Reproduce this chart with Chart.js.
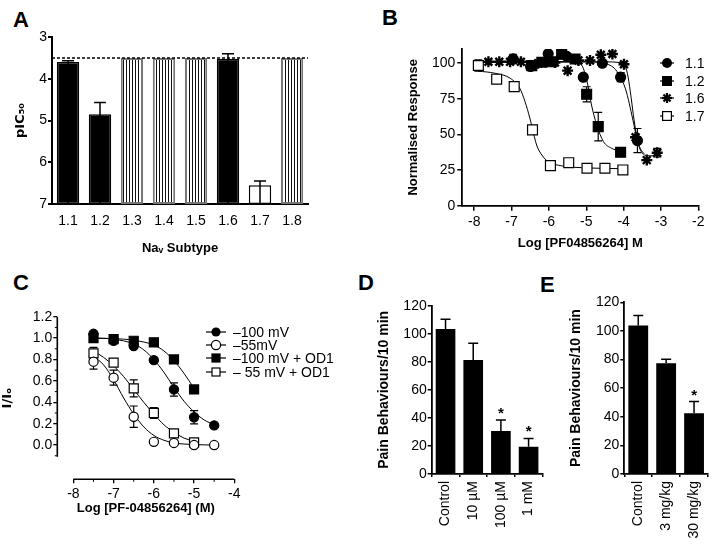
<!DOCTYPE html>
<html>
<head>
<meta charset="utf-8">
<script src="https://cdn.jsdelivr.net/npm/chart.js@4.4.1/dist/chart.umd.min.js"></script>
<style>
  body { margin: 0; background: #fff; font-family: "Liberation Sans", Arial, sans-serif; }
  #fig { position: relative; width: 722px; height: 549px; overflow: hidden; }
  #fig canvas { position: absolute; }
  .letter { position: absolute; font-weight: bold; font-size: 22px; line-height: 20px; }
  .legtxt { position: absolute; font-size: 14px; line-height: 14px; white-space: nowrap; }
  .legsvg { position: absolute; }
</style>
</head>
<body>
<div id="fig">
  <div class="letter" style="left:13px;top:10px">A</div>
  <div class="letter" style="left:382px;top:8px">B</div>
  <div class="letter" style="left:13px;top:273px">C</div>
  <div class="letter" style="left:358px;top:273px">D</div>
  <div class="letter" style="left:540px;top:275px">E</div>
  <canvas id="chartA" width="330" height="270" style="left:0;top:0"></canvas>
  <canvas id="chartB" width="352" height="270" style="left:370px;top:0"></canvas>
  <canvas id="chartC" width="360" height="279" style="left:0;top:270px"></canvas>
  <canvas id="chartD" width="190" height="279" style="left:360px;top:270px"></canvas>
  <canvas id="chartE" width="177" height="279" style="left:545px;top:270px"></canvas>
</div>
<script>
// Panel A - pIC50 per Nav subtype
const subtypesA = ['1.1', '1.2', '1.3', '1.4', '1.5', '1.6', '1.7', '1.8'];
const pic50A = [3.6, 4.85, 3.5, 3.5, 3.5, 3.52, 6.55, 3.5];
const pic50ErrA = [0.03, 0.28, 0, 0, 0, 0.12, 0.1, 0];
const cutoffA = 3.5;
const yTicksA = [3, 4, 5, 6, 7];

// Panel B - concentration response
const xTicksB = [-8, -7, -6, -5, -4, -3, -2];
const yTicksB = [0, 25, 50, 75, 100];
const namesB = ['1.1', '1.2', '1.6', '1.7'];
const logB11 = [-6.96, -6.49, -6.02, -5.53, -5.08, -4.57, -4.08, -3.63];
const respB11 = [103, 97.7, 106.6, 105, 90.2, 100, 90.2, 45.7];
const errB11 = [3.3, 1.5, 0, 0, 0, 0, 3.2, 8.5];
const logB12 = [-6.46, -6.19, -5.93, -5.66, -5.30, -4.99, -4.68, -4.08];
const respB12 = [98.3, 100.7, 101, 106.3, 103, 78.2, 55.5, 37.5];
const errB12 = [0, 0, 0, 2.3, 0, 5.3, 10, 1.5];
const logB16 = [-7.62, -7.33, -7.04, -6.75, -6.29, -5.84, -5.5, -5.21, -4.9, -4.61, -4.30, -3.99, -3.68, -3.38, -3.10];
const respB16 = [101, 101, 101, 101, 100, 100.5, 94.8, 102, 102, 106, 106.5, 99.3, 48, 32, 37.2];
const errB16 = [0, 0, 0, 0, 0, 0, 0, 0, 0, 0, 0, 0, 0, 0, 3];
const logB17 = [-7.89, -7.4, -6.93, -6.44, -5.96, -5.47, -4.98, -4.5, -4.02];
const respB17 = [98.4, 88.8, 83.6, 53.2, 28.1, 30.2, 26.3, 26.3, 25.1];
const errB17 = [4, 0, 0, 0, 0, 0, 0, 0, 0];
// fitted curves
const fitXB11 = [-7.0, -5.0, -4.6, -4.4, -4.25, -4.1, -3.95, -3.85, -3.75, -3.65, -3.55, -3.45];
const fitYB11 = [101, 101, 100.5, 99, 96.5, 91, 82, 72, 60, 48, 40, 36.5];
const fitXB12 = [-6.5, -5.6, -5.3, -5.21, -5.08, -4.96, -4.86, -4.72, -4.54, -4.32, -4.08];
const fitYB12 = [101, 101, 101, 100.5, 96.5, 84.8, 70.7, 56.7, 45, 40.3, 38];
const fitXB16 = [-7.8, -4.5, -4.1, -3.98, -3.9, -3.82, -3.74, -3.66, -3.58, -3.5, -3.38, -3.0];
const fitYB16 = [101, 101, 100.5, 99, 93, 80, 64, 50, 41, 37, 35, 35];
const fitXB17 = [-7.9, -7.45, -7.04, -6.78, -6.64, -6.51, -6.45, -6.33, -6.19, -6.02, -5.66, -4.95, -4.0];
const fitYB17 = [94.5, 93, 89.5, 82.4, 73, 61.4, 55, 42.6, 35.6, 30.9, 28, 26.5, 26];

// Panel C - I/Io vs concentration
const xTicksC = [-8, -7, -6, -5, -4];
const yTicksC = [0, 0.2, 0.4, 0.6, 0.8, 1.0, 1.2];
const xMinorC = [-7.5, -6.5, -5.5, -4.5];
const yMinorC = [-0.1, 0.1, 0.3, 0.5, 0.7, 0.9, 1.1];
const namesC = ['\u2013100 mV', '\u201355mV', '\u2013100 mV + OD1', '\u2013 55 mV + OD1'];
const doseC = [-7.5, -7, -6.5, -6, -5.5, -5, -4.5];
const doseOD = [-7.5, -7, -6.5, -6, -5.5, -5];
const iC100 = [1.04, 0.975, 0.925, 0.794, 0.52, 0.26, 0.184];
const errC100 = [0, 0.01, 0.01, 0.01, 0.062, 0.062, 0];
const iC55 = [0.78, 0.63, 0.265, 0.03, 0.02, 0, 0];
const errC55 = [0.07, 0.07, 0.1, 0, 0, 0, 0];
const iC100od = [1.0, 0.99, 0.975, 0.96, 0.80, 0.52];
const errC100od = [0, 0, 0, 0, 0, 0];
const iC55od = [0.857, 0.77, 0.53, 0.30, 0.11, 0.025];
const errC55od = [0.056, 0, 0.08, 0.05, 0, 0];
const fitXC100 = [-7.5, -7.0, -6.5, -6.25, -6.0, -5.75, -5.5, -5.25, -5.0, -4.75, -4.5];
const fitYC100 = [1.0, 0.99, 0.945, 0.89, 0.80, 0.68, 0.54, 0.41, 0.31, 0.235, 0.19];
const fitXC55 = [-7.5, -7.25, -7.0, -6.75, -6.5, -6.25, -6.0, -5.75, -5.5, -5.0, -4.5];
const fitYC55 = [0.83, 0.75, 0.61, 0.44, 0.29, 0.17, 0.09, 0.045, 0.02, 0.005, 0.0];
const fitXC100od = [-7.5, -7.0, -6.5, -6.0, -5.75, -5.5, -5.25, -5.0];
const fitYC100od = [1.0, 0.995, 0.98, 0.935, 0.88, 0.79, 0.67, 0.53];
const fitXC55od = [-7.5, -7.25, -7.0, -6.75, -6.5, -6.25, -6.0, -5.75, -5.5, -5.25, -5.0];
const fitYC55od = [0.88, 0.82, 0.74, 0.64, 0.52, 0.40, 0.29, 0.19, 0.12, 0.065, 0.035];

// Panels D and E - pain behaviours
const yTicksDE = [0, 20, 40, 60, 80, 100, 120];
const groupsD = ['Control', '10 \u00b5M', '100 \u00b5M', '1 mM'];
const painD = [103.4, 81.3, 30.7, 19.5];
const painErrD = [6.9, 11.9, 7.8, 5.9];
const sigD = [false, false, true, true];
const groupsE = ['Control', '3 mg/kg', '30 mg/kg'];
const painE = [103.7, 77.4, 42.4];
const painErrE = [7, 2.8, 8.2];
const sigE = [false, false, true];

Chart.defaults.font.family = '"Liberation Sans", Arial, sans-serif';
Chart.defaults.font.size = 14;
Chart.defaults.color = '#000';
Chart.defaults.animation = false;
Chart.defaults.responsive = false;
Chart.defaults.plugins.legend.display = false;
Chart.defaults.plugins.tooltip.enabled = false;

const pts = (xs, ys) => xs.map((x, i) => ({ x: x, y: ys[i] }));
const fixedTicks = list => scale => { scale.ticks = list.map(v => ({ value: v })); };
const boldTitle = (text, size, padTop, family) => ({
    display: true, text: text, color: '#000',
    font: family ? { size: size, weight: 'bold', family: family } : { size: size, weight: 'bold' },
    padding: { top: padTop, bottom: 4 }
});

// error bars (and significance stars) through the y scale
function drawErrors(chart, bars) {
    const ctx = chart.ctx;
    const ys = chart.scales.y;
    chart.data.datasets.forEach((ds, i) => {
        if (!ds.errors) return;
        const meta = chart.getDatasetMeta(i);
        if ((meta.type === 'bar') !== bars) return;
        ctx.save();
        ctx.strokeStyle = '#000';
        ctx.lineWidth = ds.errorWidth || 1.2;
        const cap = ds.errorCap || 4;
        meta.data.forEach((el, j) => {
            const e = ds.errors[j];
            const raw = ds.data[j];
            const v = Array.isArray(raw) ? raw[1] : (typeof raw === 'object' ? raw.y : raw);
            const x = el.x;
            let y1, y2;
            if (bars) {
                y1 = el.y;
                y2 = ys.getPixelForValue(v + (ds.errorDir || 1) * e);
            } else {
                y1 = ys.getPixelForValue(v - e);
                y2 = ys.getPixelForValue(v + e);
            }
            if (e) {
                ctx.beginPath();
                ctx.moveTo(x, y1); ctx.lineTo(x, y2);
                ctx.moveTo(x - cap, y2); ctx.lineTo(x + cap, y2);
                if (!bars) { ctx.moveTo(x - cap, y1); ctx.lineTo(x + cap, y1); }
                ctx.stroke();
            }
            if (ds.stars && ds.stars[j]) {
                ctx.fillStyle = '#000';
                ctx.font = 'bold 15px "Liberation Sans", Arial, sans-serif';
                ctx.textAlign = 'center';
                ctx.textBaseline = 'alphabetic';
                ctx.fillText('*', x, y2 - 2);
            }
        });
        ctx.restore();
    });
}
const errorBars = {
    id: 'errorBars',
    beforeDatasetsDraw(chart) { drawErrors(chart, false); },
    afterDatasetsDraw(chart) { drawErrors(chart, true); }
};

const refLine = {
    id: 'refLine',
    afterDatasetsDraw(chart, args, opts) {
        const { ctx, chartArea, scales } = chart;
        const py = scales.y.getPixelForValue(opts.value);
        ctx.save();
        ctx.setLineDash([3, 2]);
        ctx.lineWidth = 1.5;
        ctx.strokeStyle = '#000';
        ctx.beginPath();
        ctx.moveTo(chartArea.left, py);
        ctx.lineTo(chartArea.right, py);
        ctx.stroke();
        ctx.restore();
    }
};

// detached axes with minor ticks (panel C)
const splitAxes = {
    id: 'splitAxes',
    afterDraw(chart, args, o) {
        const { ctx, chartArea: a, scales: { x, y } } = chart;
        ctx.save();
        ctx.strokeStyle = '#000';
        ctx.lineWidth = 1.6;
        ctx.beginPath();
        ctx.moveTo(a.left, y.getPixelForValue(o.yFrom));
        ctx.lineTo(a.left, y.getPixelForValue(o.yTo));
        ctx.moveTo(x.getPixelForValue(o.xFrom), a.bottom);
        ctx.lineTo(x.getPixelForValue(o.xTo), a.bottom);
        ctx.stroke();
        ctx.lineWidth = 1;
        ctx.beginPath();
        o.yMinor.forEach(v => {
            const p = y.getPixelForValue(v);
            ctx.moveTo(a.left - 2.5, p); ctx.lineTo(a.left, p);
        });
        o.xMinor.forEach(v => {
            const p = x.getPixelForValue(v);
            ctx.moveTo(p, a.bottom); ctx.lineTo(p, a.bottom + 2.5);
        });
        ctx.stroke();
        ctx.restore();
    }
};

function stripes() {
    const c = document.createElement('canvas');
    c.width = 3; c.height = 4;
    const g = c.getContext('2d');
    g.fillStyle = '#fff'; g.fillRect(0, 0, 3, 4);
    g.fillStyle = '#111'; g.fillRect(0, 0, 1, 4);
    return g.createPattern(c, 'repeat');
}

// legend glyphs
function glyph(shape, r, w) {
    const c = w / 2, m = 7;
    let s = `<line x1="0" y1="${m}" x2="${w}" y2="${m}" stroke="#000" stroke-width="1.2"/>`;
    if (shape === 'dot') s += `<circle cx="${c}" cy="${m}" r="${r}" fill="#000"/>`;
    if (shape === 'ring') s += `<circle cx="${c}" cy="${m}" r="${r}" fill="#fff" stroke="#000" stroke-width="1.2"/>`;
    if (shape === 'box') s += `<rect x="${c - r}" y="${m - r}" width="${2 * r}" height="${2 * r}" fill="#000"/>`;
    if (shape === 'openbox') s += `<rect x="${c - r + 0.6}" y="${m - r + 0.6}" width="${2 * r - 1.2}" height="${2 * r - 1.2}" fill="#fff" stroke="#000" stroke-width="1.2"/>`;
    if (shape === 'star') {
        [0, 45, 90, 135].forEach(d => {
            const dx = r * Math.cos(d * Math.PI / 180), dy = r * Math.sin(d * Math.PI / 180);
            s += `<line x1="${c - dx}" y1="${m - dy}" x2="${c + dx}" y2="${m + dy}" stroke="#000" stroke-width="2.2"/>`;
        });
    }
    return `<svg width="${w}" height="14" viewBox="0 0 ${w} 14">${s}</svg>`;
}
function addLegend(names, shapes, r, w, gx, tx, rows) {
    const fig = document.getElementById('fig');
    names.forEach((name, i) => {
        const g = document.createElement('div');
        g.className = 'legsvg';
        g.style.left = gx + 'px';
        g.style.top = (rows[i] - 7) + 'px';
        g.innerHTML = glyph(shapes[i], r, w);
        fig.appendChild(g);
        const t = document.createElement('div');
        t.className = 'legtxt';
        t.style.left = tx + 'px';
        t.style.top = (rows[i] - 7) + 'px';
        t.textContent = name;
        fig.appendChild(t);
    });
}

// ---------- A
const hatch = stripes();
const kindA = ['solid', 'solid', 'hatch', 'hatch', 'hatch', 'solid', 'open', 'hatch'];
new Chart(document.getElementById('chartA'), {
    type: 'bar',
    data: {
        labels: subtypesA,
        datasets: [{
            data: pic50A.map(v => [7, v]),
            errors: pic50ErrA,
            errorDir: -1,
            errorCap: 6,
            errorWidth: 1.5,
            backgroundColor: kindA.map(k => k === 'solid' ? '#000' : (k === 'open' ? '#fff' : hatch)),
            borderColor: kindA.map(k => k === 'hatch' ? '#777' : '#000'),
            borderWidth: kindA.map(k => k === 'hatch' ? 2 : 1.5),
            borderSkipped: false,
            barPercentage: 0.7,
            categoryPercentage: 1
        }]
    },
    options: {
        layout: { padding: { left: 0, top: 37, right: 22, bottom: 10 } },
        scales: {
            x: {
                grid: { display: false, drawTicks: false },
                border: { color: '#000', width: 2 },
                ticks: { padding: 9 },
                title: boldTitle('Na\u1d65 Subtype', 13, 4),
                afterFit: s => { s.height = 56; }
            },
            y: {
                reverse: true, min: 3, max: 7,
                afterBuildTicks: fixedTicks(yTicksA),
                grid: { drawOnChartArea: false, tickLength: 4, color: '#000', lineWidth: 2 },
                border: { color: '#000', width: 2 },
                ticks: { padding: 1 },
                title: boldTitle('pIC\u2085\u2080', 13, 13, '"DejaVu Sans", sans-serif'),
                afterFit: s => { s.width = 52; }
            }
        },
        plugins: { refLine: { value: cutoffA } }
    },
    plugins: [errorBars, refLine]
});

// ---------- B
const markB = {
    '1.1': { pointStyle: 'circle', pointRadius: 5, pointBackgroundColor: '#000' },
    '1.2': { pointStyle: 'rect', pointRadius: 7, pointBackgroundColor: '#000' },
    '1.6': { pointStyle: 'star', pointRadius: 5.5, pointBackgroundColor: '#000', pointBorderWidth: 2.4 },
    '1.7': { pointStyle: 'rect', pointRadius: 7, pointBackgroundColor: '#fff' }
};
const seriesB = [
    [logB11, respB11, errB11, fitXB11, fitYB11],
    [logB12, respB12, errB12, fitXB12, fitYB12],
    [logB16, respB16, errB16, fitXB16, fitYB16],
    [logB17, respB17, errB17, fitXB17, fitYB17]
];
const dotsB = seriesB.map((s, i) => Object.assign({
    data: pts(s[0], s[1]),
    errors: s[2],
    errorCap: 4,
    pointBorderColor: '#000',
    pointBorderWidth: 1.2,
    showLine: false,
    order: 1
}, markB[namesB[i]]));
const fitsB = seriesB.map(s => ({
    data: pts(s[3], s[4]),
    showLine: true,
    pointRadius: 0,
    borderColor: '#000',
    borderWidth: 1,
    cubicInterpolationMode: 'monotone',
    order: 2
}));
new Chart(document.getElementById('chartB'), {
    type: 'scatter',
    data: { datasets: dotsB.concat(fitsB) },
    options: {
        layout: { padding: { left: 32, top: 49, right: 23.7, bottom: 15 } },
        scales: {
            x: {
                type: 'linear', min: -8.32, max: -2,
                afterBuildTicks: fixedTicks(xTicksB),
                grid: { drawOnChartArea: false, tickLength: 5, color: '#000', lineWidth: 1.5 },
                border: { color: '#000', width: 1.8 },
                ticks: { padding: 3 },
                title: boldTitle('Log [PF04856264] M', 13, 4),
                afterFit: s => { s.height = 49.3; }
            },
            y: {
                min: 0, max: 110,
                afterBuildTicks: fixedTicks(yTicksB),
                grid: { drawOnChartArea: false, tickLength: 5, color: '#000', lineWidth: 1.5 },
                border: { color: '#000', width: 1.8 },
                ticks: { padding: 2 },
                title: boldTitle('Normalised Response', 13, 4),
                afterFit: s => { s.width = 60.3; }
            }
        }
    },
    plugins: [errorBars]
});
addLegend(namesB, ['dot', 'box', 'star', 'openbox'], 5, 14, 660, 685, [63.3, 80.5, 98, 115.7]);

// ---------- C
const seriesC = [
    [doseC, iC100, errC100, fitXC100, fitYC100, 'circle', 4.6, '#000'],
    [doseC, iC55, errC55, fitXC55, fitYC55, 'circle', 4.6, '#fff'],
    [doseOD, iC100od, errC100od, fitXC100od, fitYC100od, 'rect', 6.4, '#000'],
    [doseOD, iC55od, errC55od, fitXC55od, fitYC55od, 'rect', 6.4, '#fff']
];
const dotsC = seriesC.map(s => ({
    data: pts(s[0], s[1]),
    errors: s[2],
    errorCap: 4,
    pointStyle: s[5],
    pointRadius: s[6],
    pointBackgroundColor: s[7],
    pointBorderColor: '#000',
    pointBorderWidth: 1.2,
    showLine: false,
    order: 1
}));
const fitsC = seriesC.map(s => ({
    data: pts(s[3], s[4]),
    showLine: true,
    pointRadius: 0,
    borderColor: '#000',
    borderWidth: 1,
    cubicInterpolationMode: 'monotone',
    order: 2
}));
new Chart(document.getElementById('chartC'), {
    type: 'scatter',
    data: { datasets: dotsC.concat(fitsC) },
    options: {
        layout: { padding: { left: 0, top: 46.7, right: 125.7, bottom: 29 } },
        scales: {
            x: {
                type: 'linear', min: -8.4, max: -4,
                afterBuildTicks: fixedTicks(xTicksC),
                grid: { drawOnChartArea: false, tickLength: 4, color: '#000', lineWidth: 1.3 },
                border: { display: false },
                ticks: { padding: 2 },
                title: boldTitle('Log [PF-04856264] (M)', 13, 4),
                afterFit: s => { s.height = 40.7; }
            },
            y: {
                min: -0.32, max: 1.2,
                afterBuildTicks: fixedTicks(yTicksC),
                grid: { drawOnChartArea: false, tickLength: 4, color: '#000', lineWidth: 1.3 },
                border: { display: false },
                ticks: { padding: 1, callback: v => v.toFixed(1) },
                title: boldTitle('I/I\u2092', 13, 0, '"DejaVu Sans", sans-serif'),
                afterFit: s => { s.width = 57.3; }
            }
        },
        plugins: {
            splitAxes: { yFrom: 1.2, yTo: -0.11, xFrom: -8, xTo: -4, xMinor: xMinorC, yMinor: yMinorC }
        }
    },
    plugins: [errorBars, splitAxes]
});
addLegend(namesC, ['dot', 'ring', 'box', 'openbox'], 4.6, 20, 206, 233, [331.7, 345, 358.3, 371.7]);

// ---------- D and E
function painChart(id, labels, values, errs, sig, pad, yWidth) {
    new Chart(document.getElementById(id), {
        type: 'bar',
        data: {
            labels: labels,
            datasets: [{
                data: values,
                errors: errs,
                stars: sig,
                errorCap: 5,
                errorWidth: 1.5,
                backgroundColor: '#000',
                borderWidth: 0,
                barPercentage: 0.71,
                categoryPercentage: 1
            }]
        },
        options: {
            layout: { padding: pad },
            scales: {
                x: {
                    grid: { drawOnChartArea: false, tickLength: 3, color: '#000', lineWidth: 1.5 },
                    border: { color: '#000', width: 1.8 },
                    ticks: { minRotation: 90, maxRotation: 90, autoSkip: false, padding: 4 },
                    afterFit: s => { s.height = 70; }
                },
                y: {
                    min: 0, max: 120,
                    afterBuildTicks: fixedTicks(yTicksDE),
                    grid: { drawOnChartArea: false, tickLength: 4, color: '#000', lineWidth: 1.5 },
                    border: { color: '#000', width: 1.8 },
                    ticks: { padding: 1 },
                    title: boldTitle('Pain Behaviours/10 min', 14, 4),
                    afterFit: s => { s.width = yWidth; }
                }
            }
        },
        plugins: [errorBars]
    });
}
painChart('chartD', groupsD, painD, painErrD, sigD, { left: 12.2, top: 35.7, right: 5, bottom: 5 }, 59.5);
painChart('chartE', groupsE, painE, painErrE, sigE, { left: 19.2, top: 32.3, right: 14, bottom: 5 }, 60.1);
</script>
</body>
</html>
